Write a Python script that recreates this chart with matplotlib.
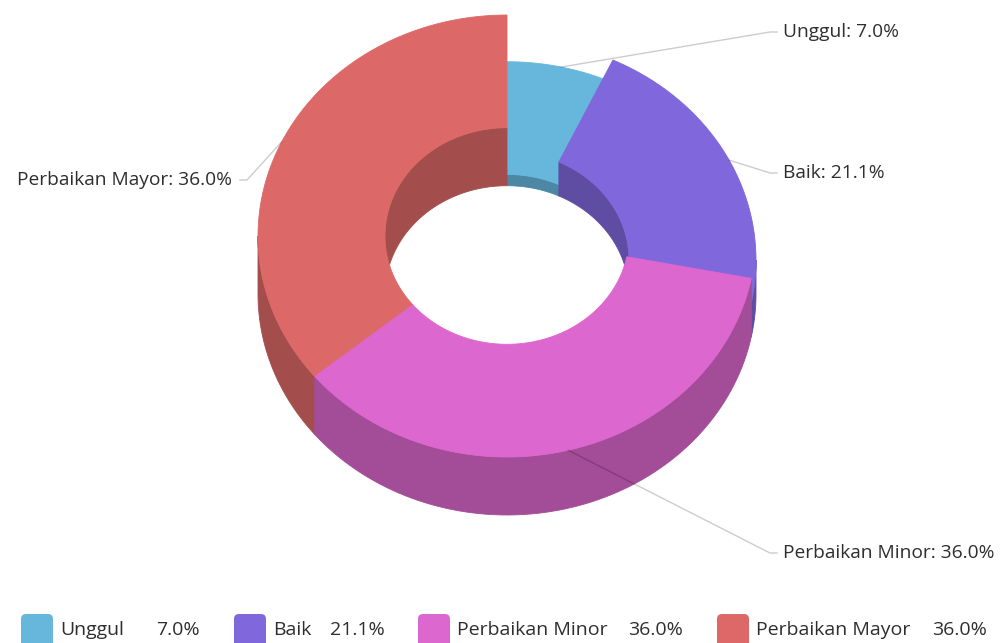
import numpy as np
import matplotlib
matplotlib.use("Agg")
import matplotlib.pyplot as plt
from matplotlib.patches import Polygon, FancyBboxPatch
from matplotlib.colors import to_rgb

# data
categories = ["Unggul", "Baik", "Perbaikan Minor", "Perbaikan Mayor"]
values = [7.0, 21.1, 36.0, 36.0]
colors = ["#67b7dc", "#8067dc", "#dc67ce", "#dc6967"]

# layout (pixels)
cx, cy = 507, 294          # centre of the bottom plane
rx, ry = 249, 221          # outer radii on screen
inner = 0.49               # inner radius ratio
max_depth = 58
shade = 0.74

label_xy = [(777, 32), (777, 173), (777, 553), (240, 180)]
legend_x = [21, 234, 418, 717]
legend_val_x = [200, 385, 683, 987]

plt.rcParams['font.family'] = ['Open Sans', 'DejaVu Sans']

fig = plt.figure(figsize=(10, 6.43), dpi=100)
ax = fig.add_axes([0, 0, 1, 1])
ax.set_xlim(0, 1000)
ax.set_ylim(643, 0)
ax.axis('off')


def proj(theta, r, h):
    t = np.radians(theta)
    return cx + rx * r * np.sin(t), cy - h - ry * r * np.cos(t)


def arc(t1, t2, r, h, n=80):
    ts = np.linspace(t1, t2, n)
    x, y = proj(ts, r, h)
    return np.column_stack([x, y])


def dark(c):
    return tuple(v * shade for v in to_rgb(c))


def poly(pts, c, z):
    ax.add_patch(Polygon(pts, closed=True, facecolor=c, edgecolor=c, lw=0.6, zorder=z))


def clip(a, b, lo, hi):
    s, e = max(a, lo), min(b, hi)
    return (s, e) if e > s else None


total = sum(values)
starts = np.cumsum([0] + values[:-1]) / total * 360
ends = np.cumsum(values) / total * 360
depths = [max_depth * v / max(values) for v in values]
mids = (starts + ends) / 2

# back slices first
order = np.argsort(-np.cos(np.radians(mids)))
z = 1
for i in order:
    a, b, h, c = starts[i], ends[i], depths[i], colors[i]
    dc = dark(c)
    # inner wall, back half
    for lo, hi in [(-90, 90), (270, 450)]:
        seg = clip(a, b, lo, hi)
        if seg:
            top = arc(seg[0], seg[1], inner, h)
            bot = arc(seg[1], seg[0], inner, 0)
            poly(np.vstack([top, bot]), dc, z)
    # radial faces
    for t, sgn in [(a, -1), (b, 1)]:
        if sgn * np.sin(np.radians(t)) > 1e-6:
            p = [proj(t, inner, 0), proj(t, 1, 0), proj(t, 1, h), proj(t, inner, h)]
            poly(p, dc, z)
    # outer wall, front half
    seg = clip(a, b, 90, 270)
    if seg:
        top = arc(seg[0], seg[1], 1, h)
        bot = arc(seg[1], seg[0], 1, 0)
        poly(np.vstack([top, bot]), dc, z)
    # top face
    poly(np.vstack([arc(a, b, 1, h), arc(b, a, inner, h)]), c, z)
    z += 1

# labels with leader lines
for i, name in enumerate(categories):
    sx, sy = proj(mids[i], 1, depths[i])
    lx, ly = label_xy[i]
    right = lx > cx
    bx = lx - 7 if right else lx + 7
    ax.plot([sx, bx, lx], [sy, ly, ly], color='black', alpha=0.2, lw=1, zorder=20)
    tx = lx + 6 if right else lx - 8
    ax.text(tx, ly, f"{name}: {values[i]:.1f}%", ha='left' if right else 'right',
            va='center', fontsize=13.8, color='#2e2e2e', zorder=21)

# legend
for i, name in enumerate(categories):
    x0 = legend_x[i]
    ax.add_patch(FancyBboxPatch((x0, 614), 32, 34, boxstyle="round,pad=0,rounding_size=5",
                                facecolor=colors[i], edgecolor='none', zorder=5))
    ax.text(x0 + 39, 630, name, ha='left', va='center', fontsize=14, color='#2e2e2e')
    ax.text(legend_val_x[i], 630, f"{values[i]:.1f}%", ha='right', va='center',
            fontsize=14, color='#2e2e2e')

fig.savefig("out.png", dpi=100)
